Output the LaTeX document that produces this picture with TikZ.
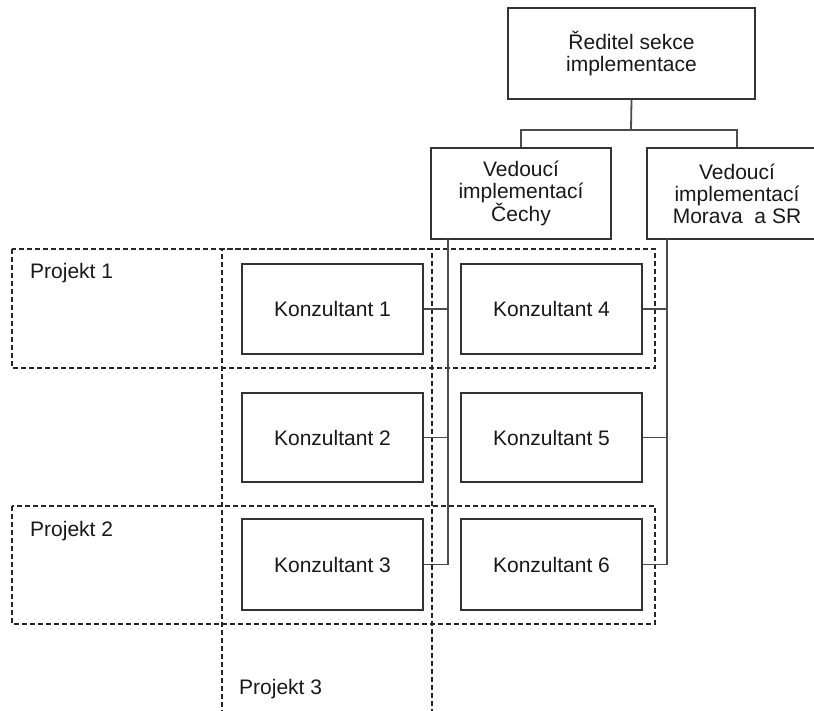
\documentclass[tikz,border=0pt]{standalone}
\usepackage{fontspec}
\setmainfont{Liberation Sans}
\begin{document}
\begin{tikzpicture}[x=1pt,y=-1pt,
  every node/.style={font=\fontsize{21}{22}\selectfont, text=black!90},
  orgbox/.style={draw=black!80, line width=1.4pt, fill=white, align=center, inner sep=0pt},
  conn/.style={draw=black!70, line width=1.8pt},
  dashbox/.style={draw=black!85, line width=1.1pt, dash pattern=on 5pt off 3pt},
  lbl/.style={anchor=base west, inner sep=0pt}]
\useasboundingbox (0,0) rectangle (814,710);
\clip (0,0) rectangle (814,710);
% dashed project frames
\draw[dashbox] (12,249) rectangle (655,368);
\draw[dashbox] (12,506) rectangle (655,624);
\draw[dashbox] (222,715) -- (222,249) -- (432,249) -- (432,715);
\node[lbl] (p1) at (30,278) {Projekt 1};
\node[lbl] (p2) at (30,536) {Projekt 2};
\node[lbl] (p3) at (239,694) {Projekt 3};
% boxes
\node[orgbox, minimum width=247pt, minimum height=91pt] (top) at (631.5,53.5) {Ředitel sekce\\implementace};
\node[orgbox, minimum width=180pt, minimum height=91pt] (ce) at (521,193.5) {Vedoucí\\implementací\\Čechy};
\node[orgbox, minimum width=180pt, minimum height=91pt] (mo) at (737,193.5) {Vedoucí\\implementací\\Morava~ a SR};
\node[orgbox, minimum width=181pt, minimum height=90pt] (k1) at (332.5,309) {Konzultant 1};
\node[orgbox, minimum width=181pt, minimum height=89pt] (k2) at (332.5,437.5) {Konzultant 2};
\node[orgbox, minimum width=181pt, minimum height=91pt] (k3) at (332.5,564.5) {Konzultant 3};
\node[orgbox, minimum width=181pt, minimum height=90pt] (k4) at (551.5,309) {Konzultant 4};
\node[orgbox, minimum width=181pt, minimum height=89pt] (k5) at (551.5,437.5) {Konzultant 5};
\node[orgbox, minimum width=181pt, minimum height=91pt] (k6) at (551.5,564.5) {Konzultant 6};
% connectors
\coordinate (bus) at (631,130);
\coordinate (cx) at (448,239);
\coordinate (mx) at (667,239);
\draw[conn] (top.south) -- (bus);
\draw[conn] (ce.north) |- (bus) -| (mo.north);
\draw[conn] (cx) |- (k3.east);
\draw[conn] (k1.east) -- (k1.east -| cx);
\draw[conn] (k2.east) -- (k2.east -| cx);
\draw[conn] (mx) |- (k6.east);
\draw[conn] (k4.east) -- (k4.east -| mx);
\draw[conn] (k5.east) -- (k5.east -| mx);
\end{tikzpicture}
\end{document}
